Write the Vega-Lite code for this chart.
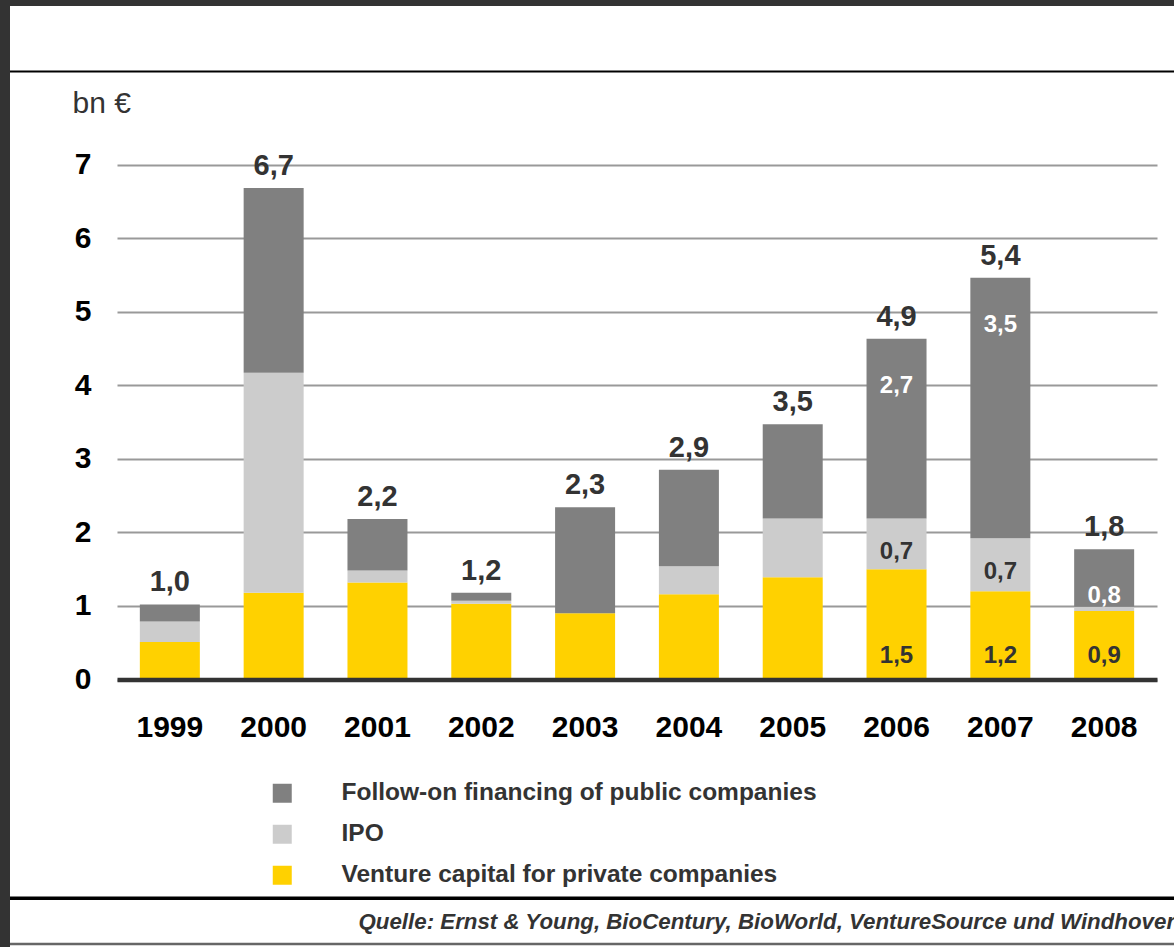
{
  "$schema": "https://vega.github.io/schema/vega-lite/v6.json",
  "width": 1164,
  "height": 941,
  "autosize": "none",
  "padding": {"left": 10, "top": 6, "right": 0, "bottom": 0},
  "background": "#333333",
  "config": {
    "view": {"fill": "#ffffff", "stroke": null},
    "font": "Liberation Sans",
    "axis": {"labelFont": "Liberation Sans", "titleFont": "Liberation Sans"},
    "legend": {"labelFont": "Liberation Sans"}
  },
  "datasets": {
    "funding": [
      {"year": "1999", "series": "Venture capital for private companies", "value": 0.51, "label": "", "totalLabel": "1,0"},
      {"year": "1999", "series": "IPO", "value": 0.28, "label": "", "totalLabel": "1,0"},
      {"year": "1999", "series": "Follow-on financing of public companies", "value": 0.23, "label": "", "totalLabel": "1,0"},
      {"year": "2000", "series": "Venture capital for private companies", "value": 1.18, "label": "", "totalLabel": "6,7"},
      {"year": "2000", "series": "IPO", "value": 2.99, "label": "", "totalLabel": "6,7"},
      {"year": "2000", "series": "Follow-on financing of public companies", "value": 2.51, "label": "", "totalLabel": "6,7"},
      {"year": "2001", "series": "Venture capital for private companies", "value": 1.32, "label": "", "totalLabel": "2,2"},
      {"year": "2001", "series": "IPO", "value": 0.16, "label": "", "totalLabel": "2,2"},
      {"year": "2001", "series": "Follow-on financing of public companies", "value": 0.70, "label": "", "totalLabel": "2,2"},
      {"year": "2002", "series": "Venture capital for private companies", "value": 1.03, "label": "", "totalLabel": "1,2"},
      {"year": "2002", "series": "IPO", "value": 0.04, "label": "", "totalLabel": "1,2"},
      {"year": "2002", "series": "Follow-on financing of public companies", "value": 0.11, "label": "", "totalLabel": "1,2"},
      {"year": "2003", "series": "Venture capital for private companies", "value": 0.90, "label": "", "totalLabel": "2,3"},
      {"year": "2003", "series": "IPO", "value": 0, "label": "", "totalLabel": "2,3"},
      {"year": "2003", "series": "Follow-on financing of public companies", "value": 1.44, "label": "", "totalLabel": "2,3"},
      {"year": "2004", "series": "Venture capital for private companies", "value": 1.16, "label": "", "totalLabel": "2,9"},
      {"year": "2004", "series": "IPO", "value": 0.38, "label": "", "totalLabel": "2,9"},
      {"year": "2004", "series": "Follow-on financing of public companies", "value": 1.31, "label": "", "totalLabel": "2,9"},
      {"year": "2005", "series": "Venture capital for private companies", "value": 1.39, "label": "", "totalLabel": "3,5"},
      {"year": "2005", "series": "IPO", "value": 0.80, "label": "", "totalLabel": "3,5"},
      {"year": "2005", "series": "Follow-on financing of public companies", "value": 1.28, "label": "", "totalLabel": "3,5"},
      {"year": "2006", "series": "Venture capital for private companies", "value": 1.50, "label": "1,5", "totalLabel": "4,9"},
      {"year": "2006", "series": "IPO", "value": 0.69, "label": "0,7", "totalLabel": "4,9"},
      {"year": "2006", "series": "Follow-on financing of public companies", "value": 2.44, "label": "2,7", "totalLabel": "4,9"},
      {"year": "2007", "series": "Venture capital for private companies", "value": 1.20, "label": "1,2", "totalLabel": "5,4"},
      {"year": "2007", "series": "IPO", "value": 0.72, "label": "0,7", "totalLabel": "5,4"},
      {"year": "2007", "series": "Follow-on financing of public companies", "value": 3.54, "label": "3,5", "totalLabel": "5,4"},
      {"year": "2008", "series": "Venture capital for private companies", "value": 0.93, "label": "0,9", "totalLabel": "1,8"},
      {"year": "2008", "series": "IPO", "value": 0.06, "label": "", "totalLabel": "1,8"},
      {"year": "2008", "series": "Follow-on financing of public companies", "value": 0.78, "label": "0,8", "totalLabel": "1,8"}
    ]
  },
  "layer": [
    {
      "data": {"values": [{}]},
      "mark": {"type": "rule", "color": "#000000", "strokeWidth": 2},
      "encoding": {"y": {"datum": 8.264, "type": "quantitative"}}
    },
    {
      "data": {"values": [{}]},
      "mark": {"type": "rule", "color": "#000000", "strokeWidth": 3.5},
      "encoding": {"y": {"datum": -2.974, "type": "quantitative"}}
    },
    {
      "data": {"values": [{}]},
      "mark": {"type": "rule", "color": "#666666", "strokeWidth": 2.5},
      "encoding": {"y": {"datum": -3.595, "type": "quantitative"}}
    },
    {
      "data": {"name": "funding"},
      "transform": [
        {"stack": "value", "groupby": ["year"], "sort": [{"field": "series", "order": "descending"}], "as": ["v0", "v1"]}
      ],
      "mark": {"type": "bar"},
      "encoding": {
        "x": {
          "field": "year", "type": "nominal",
          "scale": {"type": "band", "range": [107, 1147], "paddingInner": 0.422, "paddingOuter": 0.22},
          "axis": {
            "title": "Quelle: Ernst & Young, BioCentury, BioWorld, VentureSource und Windhover",
            "titleX": 348, "titleY": 249, "titleAlign": "left", "titleBaseline": "alphabetic",
            "titleFontStyle": "italic", "titleFontWeight": "bold", "titleFontSize": 22.3, "titleColor": "#333333",
            "titleLimit": 1000,
            "offset": -267.5, "domainColor": "#333333", "domainWidth": 4.5, "ticks": false,
            "labelFontSize": 30, "labelFontWeight": "bold", "labelColor": "#000000", "labelPadding": 33,
            "labelAngle": 0, "grid": false, "zindex": 2
          }
        },
        "y": {
          "field": "v0", "type": "quantitative",
          "scale": {"domain": [0, 7], "range": [673.5, 158.5], "nice": false, "zero": false},
          "axis": {
            "title": "bn €", "titleAngle": 0, "titleX": -45, "titleY": 106, "titleAlign": "left",
            "titleBaseline": "alphabetic", "titleFontSize": 30, "titleFontWeight": "normal", "titleColor": "#333333",
            "offset": -107, "values": [0, 1, 2, 3, 4, 5, 6, 7], "format": "d", "domain": false, "ticks": false,
            "labelFontSize": 30, "labelFontWeight": "bold", "labelColor": "#000000", "labelPadding": 26,
            "grid": true, "gridColor": "#999999", "gridWidth": 2
          }
        },
        "y2": {"field": "v1"},
        "color": {
          "field": "series", "type": "nominal",
          "scale": {
            "domain": ["Follow-on financing of public companies", "IPO", "Venture capital for private companies"],
            "range": ["#808080", "#cccccc", "#ffd100"]
          },
          "legend": {
            "orient": "none", "legendX": 260, "legendY": 775, "title": null, "padding": 0,
            "symbolType": "square", "symbolSize": 361, "symbolStrokeWidth": 0, "symbolOpacity": 1,
            "labelFontSize": 24.5, "labelFontWeight": "bold", "labelColor": "#333333", "labelOffset": 47,
            "rowPadding": 16, "labelLimit": 700
          }
        }
      }
    },
    {
      "data": {"name": "funding"},
      "transform": [
        {"stack": "value", "groupby": ["year"], "sort": [{"field": "series", "order": "descending"}], "as": ["v0", "v1"]},
        {"filter": "datum.series === 'Follow-on financing of public companies' && datum.label !== ''"}
      ],
      "mark": {"type": "text", "fontSize": 24, "fontWeight": "bold", "color": "#ffffff", "baseline": "middle", "dy": 47},
      "encoding": {
        "x": {"field": "year", "type": "nominal"},
        "y": {"field": "v1", "type": "quantitative"},
        "text": {"field": "label"}
      }
    },
    {
      "data": {"name": "funding"},
      "transform": [
        {"stack": "value", "groupby": ["year"], "sort": [{"field": "series", "order": "descending"}], "as": ["v0", "v1"]},
        {"filter": "datum.series === 'IPO' && datum.label !== ''"}
      ],
      "mark": {"type": "text", "fontSize": 24, "fontWeight": "bold", "color": "#333333", "baseline": "middle", "dy": 34},
      "encoding": {
        "x": {"field": "year", "type": "nominal"},
        "y": {"field": "v1", "type": "quantitative"},
        "text": {"field": "label"}
      }
    },
    {
      "data": {"name": "funding"},
      "transform": [
        {"stack": "value", "groupby": ["year"], "sort": [{"field": "series", "order": "descending"}], "as": ["v0", "v1"]},
        {"filter": "datum.series === 'Venture capital for private companies' && datum.label !== ''"}
      ],
      "mark": {"type": "text", "fontSize": 24, "fontWeight": "bold", "color": "#333333", "baseline": "middle", "dy": -24},
      "encoding": {
        "x": {"field": "year", "type": "nominal"},
        "y": {"field": "v0", "type": "quantitative"},
        "text": {"field": "label"}
      }
    },
    {
      "data": {"name": "funding"},
      "transform": [
        {"aggregate": [{"op": "sum", "field": "value", "as": "total"}], "groupby": ["year", "totalLabel"]}
      ],
      "mark": {"type": "text", "fontSize": 29, "fontWeight": "bold", "color": "#333333", "baseline": "alphabetic", "dy": -13},
      "encoding": {
        "x": {"field": "year", "type": "nominal"},
        "y": {"field": "total", "type": "quantitative"},
        "text": {"field": "totalLabel"}
      }
    }
  ]
}
